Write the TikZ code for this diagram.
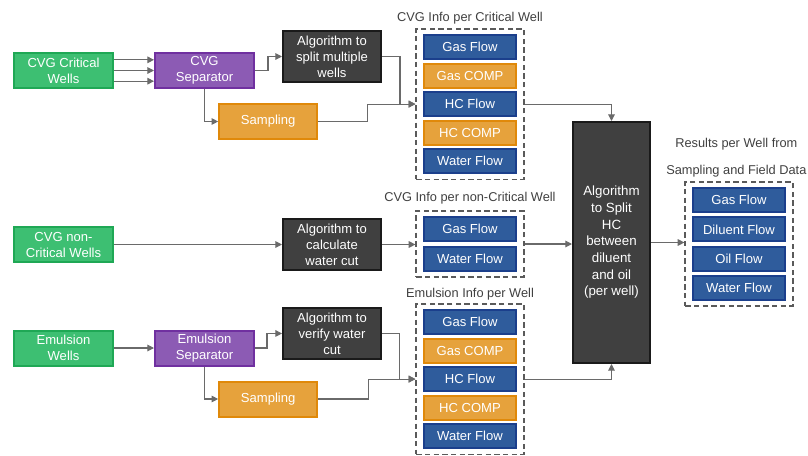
\documentclass[tikz,border=0pt]{standalone}
\usepackage{fontspec}
\setmainfont{Liberation Sans}
\usetikzlibrary{positioning, arrows.meta, fit}
\definecolor{wellgreen}{HTML}{3DBF72}
\definecolor{wellgreendark}{HTML}{1FA855}
\definecolor{seppurple}{HTML}{8C5BB4}
\definecolor{seppurpledark}{HTML}{7030A0}
\definecolor{algogray}{HTML}{404040}
\definecolor{algograydark}{HTML}{1A1A1A}
\definecolor{samporange}{HTML}{E6A23C}
\definecolor{samporangedark}{HTML}{E0890A}
\definecolor{infoblue}{HTML}{2F5C9C}
\definecolor{infobluedark}{HTML}{1B3F8C}
\definecolor{linegray}{HTML}{6A6A6A}
\definecolor{dashgray}{HTML}{5A5A5A}
\definecolor{textgray}{HTML}{404040}

\begin{document}
\begin{tikzpicture}[
  x=0.75pt, y=-0.75pt,
  font=\fontsize{9.8}{12}\selectfont,
  basebox/.style={rectangle, line width=1.5pt, align=center, text=white, inner sep=1pt},
  wellbox/.style={basebox, draw=wellgreendark, fill=wellgreen, minimum width=74.25pt, minimum height=26.25pt},
  sepbox/.style={basebox, draw=seppurpledark, fill=seppurple, minimum width=74.25pt, minimum height=26.25pt},
  algobox/.style={basebox, draw=algograydark, fill=algogray, minimum width=73.5pt, minimum height=38.25pt},
  sampbox/.style={basebox, draw=samporangedark, fill=samporange, minimum width=73.5pt, minimum height=26.25pt},
  flowbox/.style={basebox, draw=infobluedark, fill=infoblue, minimum width=69pt, minimum height=18pt},
  compbox/.style={flowbox, draw=samporangedark, fill=samporange},
  groupbox/.style={draw=dashgray, dash pattern=on 4pt off 2.5pt, line width=1.4pt, inner xsep=5pt, inner ysep=4pt},
  grouptitle/.style={text=textgray, inner sep=1pt, align=center, font=\fontsize{9.6}{12}\selectfont},
  arr/.style={-{Triangle[length=5pt, width=5pt]}, linegray, line width=0.8pt}
]
\useasboundingbox (0,0) rectangle (808,455);

% CVG critical wells
\node[wellbox] (cvgw) at (63.5,70.5) {CVG Critical\\Wells};
\node[sepbox, right=30pt of cvgw] (cvgsep) {CVG\\Separator};
\node[algobox, right=20.25pt of cvgsep, yshift=10.5pt] (split) {Algorithm to\\split multiple\\wells};
\node[sampbox, below right=10.5pt and 10.25pt of cvgsep.south] (samp1) {Sampling};

\node[flowbox] (c1) at (470,47) {Gas Flow};
\node[compbox, below=1.9pt of c1] (c2) {Gas COMP};
\node[flowbox, below=1.9pt of c2] (c3) {HC Flow};
\node[compbox, below=1.9pt of c3] (c4) {HC COMP};
\node[flowbox, below=1.9pt of c4] (c5) {Water Flow};
\node[groupbox, fit=(c1)(c5)] (crit) {};
\node[grouptitle, above=1.5pt of crit] (crittitle) {CVG Info per Critical Well};

% CVG non-critical wells
\node[wellbox] (ncw) at (63.5,244.5) {CVG non-\\Critical Wells};
\node[algobox, right=126pt of ncw] (calc) {Algorithm to\\calculate\\water cut};

\node[flowbox] (n1) at (470,229) {Gas Flow};
\node[flowbox, below=3pt of n1] (n2) {Water Flow};
\node[groupbox, fit=(n1)(n2)] (noncrit) {};
\node[grouptitle, above=3pt of noncrit] (noncrittitle) {CVG Info per non-Critical Well};

% emulsion wells
\node[wellbox] (emw) at (63.5,348) {Emulsion\\Wells};
\node[sepbox, right=30pt of emw] (emsep) {Emulsion\\Separator};
\node[algobox, right=20.25pt of emsep, yshift=10.9pt] (verify) {Algorithm to\\verify water\\cut};
\node[sampbox, below right=10.5pt and 10.25pt of emsep.south] (samp2) {Sampling};

\node[flowbox] (e1) at (470,322) {Gas Flow};
\node[compbox, below=1.9pt of e1] (e2) {Gas COMP};
\node[flowbox, below=1.9pt of e2] (e3) {HC Flow};
\node[compbox, below=1.9pt of e3] (e4) {HC COMP};
\node[flowbox, below=1.9pt of e4] (e5) {Water Flow};
\node[groupbox, fit=(e1)(e5)] (emul) {};
\node[grouptitle, above=1pt of emul] (emultitle) {Emulsion Info per Well};

% split and results
\node[algobox, minimum width=57.75pt, minimum height=180.75pt, font=\fontsize{10}{12.5}\selectfont] (hcsplit) at (611.5,242.5)
  {Algorithm\\to Split\\HC\\between\\diluent\\and oil\\(per well)};

\node[flowbox] (r1) at (739,200) {Gas Flow};
\node[flowbox, below=2.5pt of r1] (r2) {Diluent Flow};
\node[flowbox, below=2.5pt of r2] (r3) {Oil Flow};
\node[flowbox, below=2.5pt of r3] (r4) {Water Flow};
\node[groupbox, fit=(r1)(r4)] (results) {};
\node[grouptitle, above=1.5pt of results, xshift=-2pt] (resultstitle) {Results per Well from\\[8.25pt]Sampling and Field Data};

\foreach \dy in {8pt,0pt,-8pt}
  \draw[arr] ([yshift=\dy]cvgw.east) -- ([yshift=\dy]cvgsep.west);
\draw[arr] (cvgsep.east) -- ++(9.75pt,0) |- (split.west);
\draw[arr] (cvgsep.south) |- (samp1.west);
\draw[arr] (split.east) -- ++(13.5pt,0) |- (crit.west |- c3);
\draw[arr] (samp1.east) -- ++(36.75pt,0) |- (crit.west |- c3);
\draw[arr] (crit.east |- c3) -| (hcsplit.north);

\draw[arr] (ncw.east) -- (calc.west);
\draw[arr] (calc.east) -- (noncrit.west |- calc.east);
\draw[arr] (noncrit.east) -- (hcsplit.west |- noncrit.east);

\draw[arr] (emw.east) -- (emsep.west);
\draw[arr] (emsep.east) -- ++(9pt,0) |- (verify.west);
\draw[arr] (emsep.south) |- (samp2.west);
\draw[arr] (verify.east) -- ++(13.1pt,0) |- (emul.west |- e3);
\draw[arr] (samp2.east) -- ++(37.5pt,0) |- (emul.west |- e3);
\draw[arr] (emul.east |- e3) -| (hcsplit.south);

\draw[arr] (hcsplit.east) -- (results.west |- hcsplit.east);
\end{tikzpicture}
\end{document}
